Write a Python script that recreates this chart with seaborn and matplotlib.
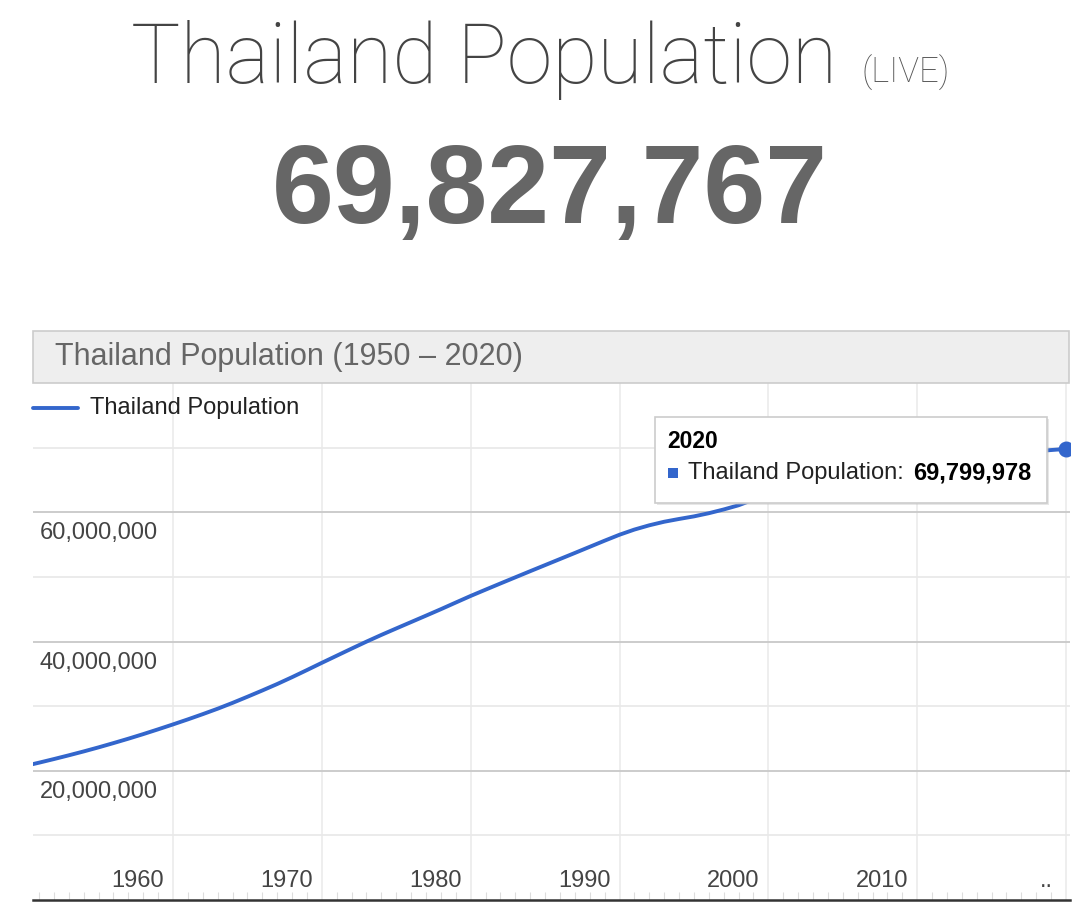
import matplotlib
matplotlib.use("Agg")
import matplotlib.pyplot as plt
import seaborn as sns
import pandas as pd
from matplotlib.patches import Rectangle
from matplotlib.ticker import MultipleLocator, FixedLocator

# ---------------- data ----------------
years = list(range(1950, 2021))
population = [
    20710000, 21250000, 21810000, 22390000, 22990000, 23620000, 24280000, 24960000, 25670000, 26410000,
    27170000, 27950000, 28760000, 29600000, 30500000, 31450000, 32420000, 33420000, 34480000, 35580000,
    36700000, 37800000, 38900000, 39980000, 41020000, 42020000, 43010000, 44000000, 45000000, 46030000,
    47050000, 48020000, 48980000, 49930000, 50880000, 51820000, 52760000, 53700000, 54650000, 55600000,
    56520000, 57320000, 57980000, 58530000, 58960000, 59360000, 59850000, 60430000, 61080000, 61950000,
    62952642, 63539000, 64069000, 64549000, 64995000, 65416189, 65812000, 66182000, 66530000, 66867000,
    67195028, 67518000, 67836000, 68144000, 68438000, 68714511, 68971308, 69209858, 69428453, 69625582,
    69799978,
]
series_name = "Thailand Population"
x_tick_years = [1960, 1970, 1980, 1990, 2000, 2010]
y_major = [20000000, 40000000, 60000000]
y_major_labels = ["20,000,000", "40,000,000", "60,000,000"]
live_count = "69,827,767"
chart_title = "Thailand Population (1950 – 2020)"
tooltip_year = "2020"
tooltip_value = "69,799,978"

df = pd.DataFrame({"Year": years, series_name: population})

# ---------------- figure ----------------
sns.set_theme(style="white")
plt.rcParams["font.family"] = ["Liberation Sans", "DejaVu Sans"]

W, H = 1080, 918
fig = plt.figure(figsize=(W / 100, H / 100), dpi=100)
fig.patch.set_facecolor("white")

def fx(px):
    return px / W

def fy(py):
    return 1 - py / H

BLUE = "#3366cc"

# header
fig.text(fx(484), fy(83), "Thailand Population", ha="center", va="baseline",
         fontsize=59.5, color="#444444", family=["Roboto", "Liberation Sans"], fontweight=200)
fig.text(fx(862), fy(83), "(LIVE)", ha="left", va="baseline",
         fontsize=25, color="#555555", family=["Roboto", "Liberation Sans"], fontweight=200)
fig.text(fx(550), fy(223), live_count, ha="center", va="baseline",
         fontsize=80, color="#666666", fontweight="bold")

# chart title box
fig.patches.append(Rectangle((fx(33), fy(383)), fx(1069) - fx(33), fy(331) - fy(383),
                             transform=fig.transFigure, facecolor="#eeeeee",
                             edgecolor="#cccccc", linewidth=1.2, zorder=0))
fig.text(fx(55), fy(357), chart_title, ha="left", va="center", fontsize=22, color="#666666")

# axes
left, right, top, bottom = 33, 1070, 383, 900
ax = fig.add_axes([fx(left), fy(bottom), fx(right) - fx(left), fy(top) - fy(bottom)])
ax.set_facecolor("white")

sns.lineplot(data=df, x="Year", y=series_name, ax=ax, color=BLUE, linewidth=2.8,
             legend=False, zorder=3)

px_per_year = (1066 - 173) / 60.0
x0 = 1960 - (173 - left) / px_per_year
x1 = x0 + (right - left) / px_per_year
ax.set_xlim(x0, x1)
ax.set_ylim(0, 80000000)

# gridlines
ax.xaxis.set_major_locator(FixedLocator(x_tick_years + [2020]))
ax.xaxis.set_minor_locator(MultipleLocator(1))
ax.yaxis.set_major_locator(FixedLocator(y_major))
ax.yaxis.set_minor_locator(FixedLocator([10000000, 30000000, 50000000, 70000000]))
ax.grid(True, which="major", axis="x", color="#ebebeb", linewidth=1.2, zorder=0)
ax.grid(True, which="major", axis="y", color="#cccccc", linewidth=1.4, zorder=0)
ax.grid(True, which="minor", axis="y", color="#e8e8e8", linewidth=1.2, zorder=0)
ax.set_xticklabels([])
ax.set_yticklabels([])
ax.tick_params(axis="y", which="both", length=0)
ax.tick_params(axis="x", which="major", length=0)
ax.tick_params(axis="x", which="minor", direction="in", length=6, width=0.8,
               color="#dddddd", bottom=True)
ax.set_xlabel("")
ax.set_ylabel("")
for s in ["top", "left", "right"]:
    ax.spines[s].set_visible(False)
ax.spines["bottom"].set_color("#333333")
ax.spines["bottom"].set_linewidth(1.8)

# y labels inside plot, below gridline
for v, lab in zip(y_major, y_major_labels):
    ax.annotate(lab, xy=(0, v), xycoords=ax.get_yaxis_transform(),
                xytext=(7 * 0.72, -21 * 0.72), textcoords="offset points",
                ha="left", va="center", fontsize=17, color="#444444")

# x labels right-aligned just left of gridline
for yr in x_tick_years:
    ax.annotate(str(yr), xy=(yr, 0), xycoords=ax.get_xaxis_transform(),
                xytext=(-9 * 0.72, 19 * 0.72), textcoords="offset points",
                ha="right", va="center", fontsize=17, color="#444444")
ax.annotate("..", xy=(2020, 0), xycoords=ax.get_xaxis_transform(),
            xytext=(-13 * 0.72, 19 * 0.72), textcoords="offset points",
            ha="right", va="center", fontsize=17, color="#444444")

# highlighted point
ax.scatter([years[-1]], [population[-1]], s=110, color=BLUE, zorder=4, clip_on=True)

# legend
fig.lines.append(plt.Line2D([fx(33), fx(78)], [fy(408), fy(408)], transform=fig.transFigure,
                            color=BLUE, linewidth=2.8))
fig.text(fx(90), fy(408), series_name, ha="left", va="center", fontsize=17, color="#222222")

# tooltip
fig.patches.append(Rectangle((fx(657), fy(505)), fx(1049) - fx(657), fy(419) - fy(505),
                             transform=fig.transFigure, facecolor="#bbbbbb",
                             edgecolor="none", alpha=0.35, zorder=5))
fig.patches.append(Rectangle((fx(655), fy(503)), fx(1047) - fx(655), fy(417) - fy(503),
                             transform=fig.transFigure, facecolor="white",
                             edgecolor="#cccccc", linewidth=1.2, zorder=6))
fig.text(fx(667), fy(441), tooltip_year, ha="left", va="center", fontsize=16.5,
         fontweight="bold", color="#000000", zorder=7)
fig.patches.append(Rectangle((fx(668), fy(478)), fx(10), fy(468) - fy(478),
                             transform=fig.transFigure, facecolor=BLUE, edgecolor="none", zorder=7))
fig.text(fx(688), fy(473), series_name + ": ", ha="left", va="center", fontsize=17,
         color="#222222", zorder=7)
fig.text(fx(913), fy(473), tooltip_value, ha="left", va="center", fontsize=17,
         fontweight="bold", color="#000000", zorder=7)

fig.savefig("out.png", dpi=100, facecolor="white")
